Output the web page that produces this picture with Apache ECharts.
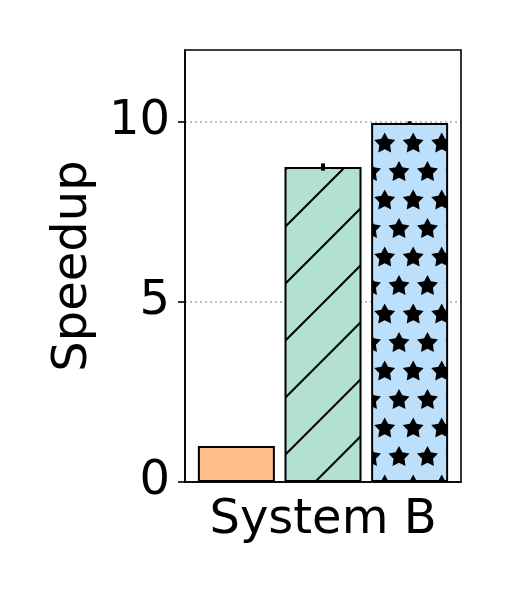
<!DOCTYPE html>
<html><head><meta charset="utf-8">
<script src="https://cdn.jsdelivr.net/npm/echarts@6/dist/echarts.min.js"></script>
<style>html,body{margin:0;padding:0;background:#fff}#c{width:513px;height:598px}</style>
</head><body><div id="c"></div>
<script>
const categories = ['System B'];
const seriesNames = ['Baseline', 'Variant A', 'Variant B'];
const speedups = [1.0, 8.75, 9.97];
const errors = [0, 0.1, 0.05];
const yTicks = [0, 5, 10];
const yMax = 12;
const colors = ['#FFC08E', '#B2E0D3', '#BCDFFB'];

const BAR_W = 77, GAP = 0.125;
const FONT = 'DejaVu Sans';

function hatchLines(bg) {
  const T = 57, c = document.createElement('canvas');
  c.width = T; c.height = T;
  const g = c.getContext('2d');
  g.fillStyle = bg; g.fillRect(0, 0, T, T);
  g.strokeStyle = '#000'; g.lineWidth = 2;
  for (const k of [-T, 0, T]) {
    g.beginPath(); g.moveTo(-5, 56 + k + 5); g.lineTo(56 + k + 5, -5); g.stroke();
  }
  return c;
}
function starPath(g, cx, cy, R) {
  const r = R * 0.52;
  g.beginPath();
  for (let i = 0; i < 10; i++) {
    const a = -Math.PI / 2 + i * Math.PI / 5;
    const rr = i % 2 ? r : R;
    const x = cx + rr * Math.cos(a), y = cy + rr * Math.sin(a);
    if (i === 0) g.moveTo(x, y); else g.lineTo(x, y);
  }
  g.closePath(); g.fill();
}
function hatchStars(bg) {
  const T = 57, c = document.createElement('canvas');
  c.width = T; c.height = T;
  const g = c.getContext('2d');
  g.fillStyle = bg; g.fillRect(0, 0, T, T);
  g.fillStyle = '#000';
  const pts = [[42.7, 28.5], [14.2, 28.5], [0, 0], [28.5, 0]];
  for (const [px, py] of pts)
    for (const dx of [-T, 0, T]) for (const dy of [-T, 0, T])
      starPath(g, px + dx, py + dy + 1, 11);
  return c;
}

const fills = [
  colors[0],
  { image: hatchLines(colors[1]), repeat: 'repeat' },
  { image: hatchStars(colors[2]), repeat: 'repeat' }
];

const chart = echarts.init(document.getElementById('c'), null, { renderer: 'canvas' });
const barSeries = seriesNames.map((n, i) => ({
  name: n, type: 'bar', barWidth: BAR_W, barGap: (GAP * 100) + '%',
  data: [speedups[i]],
  itemStyle: { color: fills[i], borderColor: '#000', borderWidth: 2 },
  z: 2
}));
const errData = speedups.map((v, i) => [0, v, errors[i], i]);
const errSeries = {
  type: 'custom', z: 5, silent: true,
  data: errData,
  renderItem: function (params, api) {
    const idx = api.value(3), v = api.value(1), e = api.value(2);
    if (!e) return;
    const off = (idx - 1) * BAR_W * (1 + GAP);
    const p1 = api.coord([0, v - e]), p2 = api.coord([0, v + e]);
    const x = p1[0] + off;
    return { type: 'line', shape: { x1: x, y1: p1[1], x2: x, y2: p2[1] },
      style: { stroke: '#000', lineWidth: 4 } };
  }
};

chart.setOption({
  animation: false,
  grid: { left: 185, right: 52, top: 50, bottom: 116, show: true, borderColor: '#000', borderWidth: 1.6, z: 10 },
  xAxis: {
    type: 'category', data: categories,
    axisLine: { lineStyle: { color: '#000', width: 1.6 } },
    axisTick: { alignWithLabel: true, length: 7, lineStyle: { color: '#000', width: 1.6 } },
    axisLabel: { color: '#000', fontFamily: FONT, fontSize: 48, margin: 15 }
  },
  yAxis: {
    type: 'value', min: 0, max: yMax, interval: 5,
    name: 'Speedup', nameLocation: 'middle', nameGap: 84, nameRotate: 90,
    nameTextStyle: { color: '#000', fontFamily: FONT, fontSize: 48 },
    axisLine: { show: true, lineStyle: { color: '#000', width: 1.6 } },
    axisTick: { show: true, length: 7, customValues: yTicks, lineStyle: { color: '#000', width: 1.6 } },
    axisLabel: { color: '#000', fontFamily: FONT, fontSize: 48, margin: 15, customValues: yTicks },
    splitLine: { show: true, showMinLine: false, showMaxLine: true,
      lineStyle: { color: '#a8a8a8', type: [2, 3], width: 1.6 } }
  },
  series: [...barSeries, errSeries]
});
</script></body></html>
